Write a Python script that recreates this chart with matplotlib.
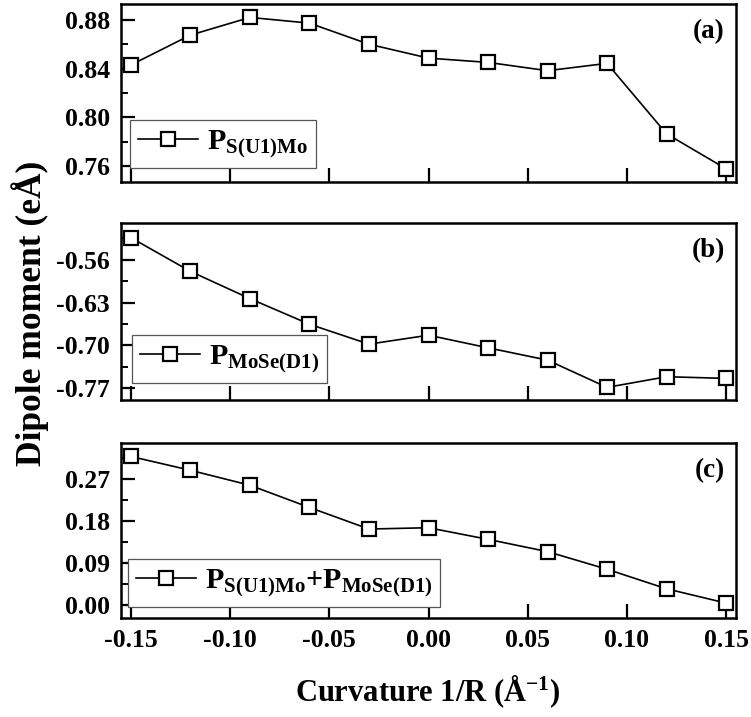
import matplotlib
matplotlib.use("Agg")
import matplotlib.pyplot as plt
from matplotlib.ticker import AutoMinorLocator, FormatStrFormatter

# ---- data ----
curvature = [-0.15, -0.12, -0.09, -0.06, -0.03, 0.00, 0.03, 0.06, 0.09, 0.12, 0.15]
p_s_u1_mo = [0.843, 0.8675, 0.882, 0.8773, 0.860, 0.8486, 0.8451, 0.8383, 0.8443, 0.7865, 0.7578]
p_mose_d1 = [-0.524, -0.579, -0.6235, -0.6653, -0.6978, -0.6832, -0.7038, -0.7239, -0.7684, -0.751, -0.7537]
p_sum = [0.319, 0.2893, 0.2571, 0.2093, 0.1629, 0.1657, 0.1407, 0.1143, 0.0764, 0.0343, 0.0036]

x_ticks = [-0.15, -0.10, -0.05, 0.00, 0.05, 0.10, 0.15]
yticks_a = [0.76, 0.80, 0.84, 0.88]
yticks_b = [-0.77, -0.70, -0.63, -0.56]
yticks_c = [0.00, 0.09, 0.18, 0.27]

labels = [r'$\mathbf{P_{S(U1)Mo}}$', r'$\mathbf{P_{MoSe(D1)}}$',
          r'$\mathbf{P_{S(U1)Mo}{+}P_{MoSe(D1)}}$']
panel_tags = ['(a)', '(b)', '(c)']

# ---- style ----
plt.rcParams['font.family'] = ['Liberation Serif', 'DejaVu Serif']
plt.rcParams['font.weight'] = 'bold'
plt.rcParams['mathtext.fontset'] = 'custom'
plt.rcParams['mathtext.rm'] = 'Liberation Serif:bold'
plt.rcParams['mathtext.bf'] = 'Liberation Serif:bold'
plt.rcParams['mathtext.it'] = 'Liberation Serif:bold'

W, H = 751, 717
fig = plt.figure(figsize=(W / 100, H / 100), dpi=100)

left = 121 / W
width = (736 - 121) / W
boxes = [(4, 182), (223, 400), (443, 618)]
series = [p_s_u1_mo, p_mose_d1, p_sum]
ylims = [(0.747, 0.893), (-0.789, -0.500), (-0.0285, 0.348)]
yticks = [yticks_a, yticks_b, yticks_c]
leg_anchor = [(0.0146, 0.079), (0.018, 0.096), (0.011, 0.063)]

for i in range(3):
    top, bot = boxes[i]
    ax = fig.add_axes([left, 1 - bot / H, width, (bot - top) / H])
    ax.plot(curvature, series[i], color='black', lw=1.2, marker='s', ms=10,
            mfc='white', mec='black', mew=1.6, label=labels[i])
    ax.set_xlim(-0.155, 0.155)
    ax.set_ylim(*ylims[i])
    ax.set_xticks(x_ticks)
    ax.set_yticks(yticks[i])
    ax.yaxis.set_minor_locator(AutoMinorLocator(2))
    ax.yaxis.set_major_formatter(FormatStrFormatter('%.2f'))
    ax.xaxis.set_major_formatter(FormatStrFormatter('%.2f'))
    ax.tick_params(axis='both', which='major', direction='in', length=10, width=1.6,
                   labelsize=18.5, pad=8, top=False, right=False)
    ax.tick_params(axis='y', which='minor', direction='in', length=5, width=1.4, right=False)
    if i < 2:
        ax.tick_params(axis='x', labelbottom=False)
    for sp in ax.spines.values():
        sp.set_linewidth(1.8)
    for lab in ax.get_xticklabels() + ax.get_yticklabels():
        lab.set_fontweight('bold')
    leg = ax.legend(loc='lower left', bbox_to_anchor=leg_anchor[i], borderaxespad=0,
                    fontsize=21.5, frameon=True, fancybox=False, handlelength=2.0,
                    handletextpad=0.3, borderpad=0.27, framealpha=1)
    leg.get_frame().set_edgecolor('#555555')
    leg.get_frame().set_linewidth(0.9)
    ax.text(0.982, 1 - 28 / (bot - top), panel_tags[i], transform=ax.transAxes,
            ha='right', va='center', fontsize=19.5, fontweight='bold')

fig.text(30 / W, 1 - 313 / H, 'Dipole moment (eÅ)', rotation=90, ha='center', va='center',
         fontsize=25.5, fontweight='bold')
fig.text(428 / W, 1 - 692 / H, r'Curvature 1/R (Å$^{\mathbf{-1}}$)', ha='center', va='center',
         fontsize=22, fontweight='bold')

fig.savefig('out.png', dpi=100)
